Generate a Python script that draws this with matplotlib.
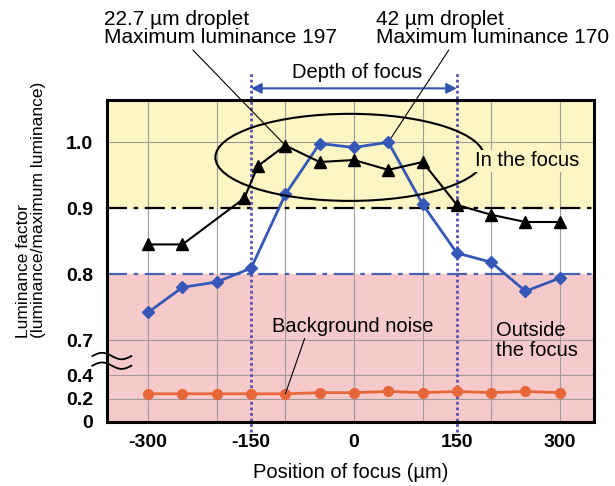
import numpy as np
import matplotlib
matplotlib.use('Agg')
import matplotlib.pyplot as plt
from matplotlib.patches import Ellipse

plt.rcParams['font.family'] = ['Liberation Sans', 'DejaVu Sans']

# focus positions (um)
positions = [-300, -250, -200, -150, -100, -50, 0, 50, 100, 150, 200, 250, 300]
# 42 um droplet (blue diamonds)
lum_42 = [0.742, 0.780, 0.788, 0.809, 0.921, 0.998, 0.992, 1.000, 0.906, 0.832, 0.818, 0.774, 0.794]
# 22.7 um droplet (black triangles)
pos_227 = [-300, -250, -160, -140, -100, -50, 0, 50, 100, 150, 200, 250, 300]
lum_227 = [0.845, 0.845, 0.915, 0.964, 0.995, 0.970, 0.973, 0.958, 0.970, 0.905, 0.890, 0.879, 0.879]
# background noise (orange)
noise = [0.24, 0.24, 0.24, 0.24, 0.24, 0.25, 0.25, 0.26, 0.25, 0.26, 0.25, 0.26, 0.25]

yticks = [0, 0.2, 0.4, 0.7, 0.8, 0.9, 1.0]
yticklabels = ['0', '0.2', '0.4', '0.7', '0.8', '0.9', '1.0']
xticks = [-300, -150, 0, 150, 300]

# broken y axis: 0-0.4 squeezed, 0.4-0.7 collapsed, 0.7-1.1 stretched
y_pts = [0, 0.4, 0.7, 1.2]
s_pts = [0, 47, 82, 412]

def fwd(y):
    return np.interp(y, y_pts, s_pts)

def inv(s):
    return np.interp(s, s_pts, y_pts)

FS = 14.5

fig = plt.figure(figsize=(6.15, 4.86), dpi=100)
ax = fig.add_axes([0.174, 0.1317, 0.792, 0.662])
ax.set_yscale('function', functions=(fwd, inv))
ax.set_xlim(-360, 350)
ax.set_ylim(0, 1.0636)

# background bands
ax.axhspan(0.9, 1.1, color='#fcf6c4', zorder=0)
ax.axhspan(0, 0.8, color='#f6c9ca', zorder=0)

for gx in [-300, -200, -100, 0, 100, 200, 300]:
    ax.axvline(gx, color='#a09a98', lw=0.8, zorder=1)
for gy in [0.2, 0.4, 0.7, 1.0]:
    ax.axhline(gy, color='#a09a98', lw=0.8, zorder=1)

ax.axhline(0.9, color='black', lw=1.6, ls=(0, (9, 3, 2, 3)), zorder=2)
ax.axhline(0.8, color='#4a62b4', lw=1.6, ls=(0, (9, 3, 2, 3)), zorder=2)

# depth of focus
xt = ax.get_xaxis_transform()
for dx in [-150, 150]:
    ax.plot([dx, dx], [-0.031, 1.09], transform=xt,
            color='#5a4fb0', lw=2, ls=(0, (1, 1)), clip_on=False, zorder=3)
ax.annotate('', xy=(-150, 1.037), xytext=(150, 1.037), xycoords=xt, textcoords=xt,
            arrowprops=dict(arrowstyle='<|-|>', color='#2f55b0', lw=1.5,
                            mutation_scale=15, shrinkA=0, shrinkB=0))
ax.text(5, 1.087, 'Depth of focus', transform=xt, ha='center', va='center', fontsize=FS)

ax.plot(positions, noise, color='#e8673a', lw=2, marker='o', ms=7, zorder=4)
ax.plot(positions, lum_42, color='#3558b8', lw=2, marker='D', ms=6, zorder=5)
ax.plot(pos_227, lum_227, color='black', lw=1.5, marker='^', ms=8, zorder=6)

ax.add_patch(Ellipse((-6, 0.977), 392, 0.132, fill=False, ec='black', lw=1.5, zorder=7))
ax.text(176, 0.972, 'In the focus', fontsize=FS, ha='left', va='center', zorder=8,
        bbox=dict(fc='#fcf6c4', ec='none', pad=1))
ax.text(207, 0.693, 'Outside\nthe focus', fontsize=FS, ha='left', va='center',
        linespacing=1.05, zorder=8)
ax.annotate('Background noise', xy=(positions[4], noise[4]), xytext=(-120, 0.721),
            fontsize=FS, ha='left', va='center', zorder=8,
            arrowprops=dict(arrowstyle='-', color='black', lw=0.8,
                            shrinkA=0, shrinkB=0, relpos=(0.21, 0)))

ax.annotate('22.7 \u00b5m droplet\nMaximum luminance 197', xy=(pos_227[4], lum_227[4]),
            xytext=(104, 476), textcoords='figure pixels', fontsize=15,
            ha='left', va='top', linespacing=0.95,
            arrowprops=dict(arrowstyle='-', color='black', lw=0.8,
                            shrinkA=0, shrinkB=2, relpos=(0.37, 0)))
ax.annotate('42 \u00b5m droplet\nMaximum luminance 170', xy=(positions[7], lum_42[7]),
            xytext=(376, 476), textcoords='figure pixels', fontsize=15,
            ha='left', va='top', linespacing=0.95,
            arrowprops=dict(arrowstyle='-', color='black', lw=0.8,
                            shrinkA=0, shrinkB=2, relpos=(0.32, 0)))

ax.set_xticks(xticks)
ax.set_xticklabels([str(v) for v in xticks], fontweight='bold', fontsize=14)
ax.set_yticks(yticks)
ax.set_yticklabels(yticklabels, fontweight='bold', fontsize=14)
ax.yaxis.set_minor_locator(matplotlib.ticker.NullLocator())
ax.tick_params(length=0, pad=10)
ax.tick_params(axis='x', pad=9)
for sp in ax.spines.values():
    sp.set_linewidth(2.2)
    sp.set_zorder(9)

ax.set_xlabel('Position of focus (\u00b5m)', fontsize=FS, labelpad=8)
fig.text(31 / 615, 1 - 338 / 486, 'Luminance factor\n(luminance/maximum luminance)',
         rotation=90, ha='center', va='bottom', multialignment='left',
         fontsize=12.5, linespacing=1.05)

# axis break marks
t = np.linspace(0, 1, 40)
for yb in [0.205, 0.175]:
    ax.plot(-0.03 + 0.08 * t, yb + 0.01 * np.sin(2 * np.pi * t),
            transform=ax.transAxes, color='black', lw=1.3, clip_on=False, zorder=10)

fig.savefig('out.png', dpi=100)
